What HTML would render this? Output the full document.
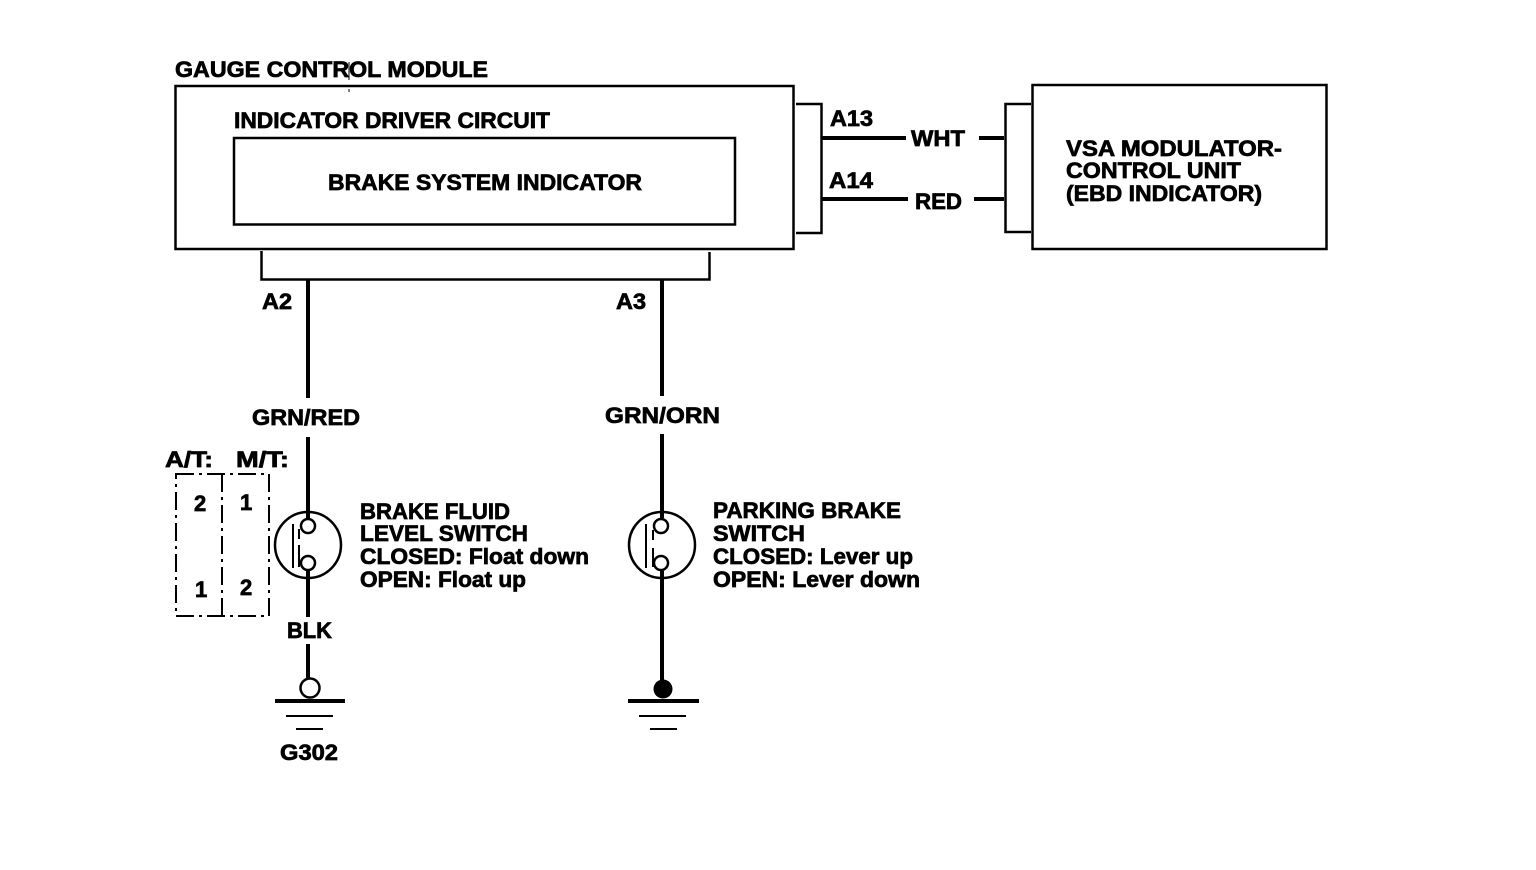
<!DOCTYPE html>
<html><head><meta charset="utf-8"><style>
html,body{margin:0;padding:0;background:#fff;width:1536px;height:870px;overflow:hidden}
text{font-family:"Liberation Sans",sans-serif;font-weight:bold;font-size:22px;fill:#000;stroke:#000;stroke-width:.7px}
</style></head><body>
<svg width="1536" height="870" viewBox="0 0 1536 870" xmlns="http://www.w3.org/2000/svg" style="display:block">
<g fill="none" stroke="#000" stroke-width="2.5">
<rect x="175.500" y="86" width="618" height="163"/>
<rect x="234" y="138" width="501" height="86.500"/>
<rect x="1032.500" y="85" width="294" height="164"/>
<path d="M796 104H821.500V233H796"/>
<path d="M1031 104H1005.500V232H1031"/>
<path d="M261.500 251V279.500H709.500V252"/>
<circle cx="308" cy="545" r="33"/>
<circle cx="662" cy="545" r="33"/>
<circle cx="308" cy="526" r="7"/><circle cx="308" cy="563" r="7"/>
<circle cx="661" cy="526" r="7"/><circle cx="661" cy="563" r="7"/>
<circle cx="310" cy="688" r="9.500"/>
</g>
<g fill="none" stroke="#000" stroke-width="4">
<path d="M308 280V398M308 437V518M308 571V617M308 644V679"/>
<path d="M662 280V396M662 434V518M662 571V682"/>
<path d="M822 138H906M979 138H1004M822 199H908M974 199H1004"/>
<path d="M275 701H345M628 701H699"/>
</g>
<g fill="none" stroke="#000" stroke-width="2">
<path d="M293 524V568M299 529V539M299 545V567"/>
<path d="M646 524V568M653 530V540M653 548V567"/>
<path d="M286 716H333M296 729H323M639 716H686M650 729H677"/>
<path d="M176 474H269V616H176Z" stroke-dasharray="18 5 3 5"/>
<path d="M222 474V616" stroke-dasharray="18 5 3 5"/>
</g>
<circle cx="663" cy="689" r="9.500" fill="#000"/>
<path d="M349 62V104" stroke="#000" stroke-width="1" stroke-dasharray="18 9 3 12" fill="none"/>
<text x="175" y="77" textLength="313" lengthAdjust="spacingAndGlyphs">GAUGE CONTROL MODULE</text>
<text x="234" y="128" textLength="316" lengthAdjust="spacingAndGlyphs">INDICATOR DRIVER CIRCUIT</text>
<text x="328" y="190" textLength="314" lengthAdjust="spacingAndGlyphs">BRAKE SYSTEM INDICATOR</text>
<text x="830" y="126" textLength="43" lengthAdjust="spacingAndGlyphs">A13</text>
<text x="829" y="188" textLength="44" lengthAdjust="spacingAndGlyphs">A14</text>
<text x="911" y="146" textLength="54" lengthAdjust="spacingAndGlyphs">WHT</text>
<text x="915" y="209" textLength="47" lengthAdjust="spacingAndGlyphs">RED</text>
<text x="1066" y="156" textLength="216" lengthAdjust="spacingAndGlyphs">VSA MODULATOR-</text>
<text x="1066" y="178" textLength="175" lengthAdjust="spacingAndGlyphs">CONTROL UNIT</text>
<text x="1066" y="201" textLength="196" lengthAdjust="spacingAndGlyphs">(EBD INDICATOR)</text>
<text x="262" y="309" textLength="30" lengthAdjust="spacingAndGlyphs">A2</text>
<text x="616" y="309" textLength="30" lengthAdjust="spacingAndGlyphs">A3</text>
<text x="252" y="425" textLength="108" lengthAdjust="spacingAndGlyphs">GRN/RED</text>
<text x="605" y="423" textLength="115" lengthAdjust="spacingAndGlyphs">GRN/ORN</text>
<text x="165" y="467" textLength="48" lengthAdjust="spacingAndGlyphs">A/T:</text>
<text x="236" y="467" textLength="53" lengthAdjust="spacingAndGlyphs">M/T:</text>
<text x="194" y="511">2</text>
<text x="240" y="510">1</text>
<text x="195" y="597">1</text>
<text x="240" y="595">2</text>
<text x="360" y="519" textLength="150" lengthAdjust="spacingAndGlyphs">BRAKE FLUID</text>
<text x="360" y="541" textLength="168" lengthAdjust="spacingAndGlyphs">LEVEL SWITCH</text>
<text x="360" y="564" textLength="229" lengthAdjust="spacingAndGlyphs">CLOSED: Float down</text>
<text x="360" y="587" textLength="166" lengthAdjust="spacingAndGlyphs">OPEN: Float up</text>
<text x="713" y="518" textLength="188" lengthAdjust="spacingAndGlyphs">PARKING BRAKE</text>
<text x="713" y="541" textLength="92" lengthAdjust="spacingAndGlyphs">SWITCH</text>
<text x="713" y="564" textLength="200" lengthAdjust="spacingAndGlyphs">CLOSED: Lever up</text>
<text x="713" y="587" textLength="207" lengthAdjust="spacingAndGlyphs">OPEN: Lever down</text>
<text x="287" y="638" textLength="45" lengthAdjust="spacingAndGlyphs">BLK</text>
<text x="280" y="760" textLength="58" lengthAdjust="spacingAndGlyphs">G302</text>
</svg>
</body></html>
